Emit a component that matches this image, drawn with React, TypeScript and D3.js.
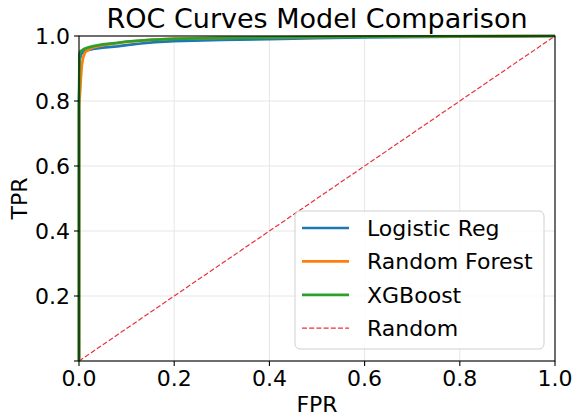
import React from "react";
import * as d3 from "d3";

const xTicks = [0, 0.2, 0.4, 0.6, 0.8, 1.0];
const yTicks = [0, 0.2, 0.4, 0.6, 0.8, 1.0];
const yTickLabels = ["", "0.2", "0.4", "0.6", "0.8", "1.0"];

const logisticFpr = [0, 0, 0.002, 0.005, 0.01, 0.02, 0.03, 0.05, 0.08, 0.1, 0.13, 0.16, 0.2, 0.3, 0.4, 0.5, 0.6, 0.8, 1.0];
const logisticTpr = [0, 0.8, 0.93, 0.945, 0.952, 0.957, 0.96, 0.964, 0.968, 0.972, 0.977, 0.981, 0.984, 0.988, 0.99, 0.993, 0.996, 0.998, 1.0];

const forestFpr = [0, 0, 0.002, 0.004, 0.006, 0.009, 0.013, 0.02, 0.03, 0.05, 0.08, 0.1, 0.15, 0.2, 0.3, 0.4, 0.6, 0.8, 1.0];
const forestTpr = [0, 0.78, 0.82, 0.87, 0.91, 0.935, 0.95, 0.958, 0.965, 0.972, 0.978, 0.982, 0.988, 0.992, 0.994, 0.996, 0.998, 0.999, 1.0];

const xgbFpr = [0, 0, 0.001, 0.003, 0.01, 0.02, 0.03, 0.05, 0.08, 0.1, 0.15, 0.2, 0.3, 0.5, 0.7, 1.0];
const xgbTpr = [0, 0.8, 0.945, 0.953, 0.96, 0.965, 0.969, 0.974, 0.979, 0.983, 0.988, 0.991, 0.994, 0.997, 0.999, 1.0];

const randomFpr = [0, 1];
const randomTpr = [0, 1];

const seriesNames = ["Logistic Reg", "Random Forest", "XGBoost", "Random"];
const seriesColors = ["#1f77b4", "#ff7f0e", "#2ca02c", "#e8323a"];

const W = 575;
const H = 416;
const L = 79, R = 555, T = 36, B = 361;
const FONT = "DejaVu Sans, sans-serif";

export default function App() {
  const x = d3.scaleLinear().domain([0, 1]).range([L, R]);
  const y = d3.scaleLinear().domain([0, 1]).range([B, T]);
  const line = d3
    .line<[number, number]>()
    .x((d) => x(d[0]))
    .y((d) => y(d[1]));
  const zip = (a: number[], b: number[]) => a.map((v, i) => [v, b[i]] as [number, number]);

  const curves = [
    zip(logisticFpr, logisticTpr),
    zip(forestFpr, forestTpr),
    zip(xgbFpr, xgbTpr),
  ];

  const legX = 295, legY = 211, legW = 249, legH = 138;
  const entryY = (i: number) => 228 + i * 33.4;

  return (
    <svg
      width={W}
      height={H}
      style={{ position: "absolute", left: 0, top: 0, background: "#fff" }}
      fontFamily={FONT}
    >
      <rect x={0} y={0} width={W} height={H} fill="#fff" />
      {xTicks.map((t) => (
        <line key={"gx" + t} x1={x(t)} x2={x(t)} y1={T} y2={B} stroke="#e6e6e6" strokeWidth={1} />
      ))}
      {yTicks.map((t) => (
        <line key={"gy" + t} x1={L} x2={R} y1={y(t)} y2={y(t)} stroke="#e6e6e6" strokeWidth={1} />
      ))}
      <path
        d={line(zip(randomFpr, randomTpr)) || ""}
        fill="none"
        stroke={seriesColors[3]}
        strokeWidth={1.2}
        strokeDasharray="5,2.2"
      />
      {curves.map((c, i) => (
        <path
          key={i}
          d={line(c) || ""}
          fill="none"
          stroke={seriesColors[i]}
          strokeWidth={2.7}
          strokeLinejoin="round"
        />
      ))}
      <rect x={L} y={T} width={R - L} height={B - T} fill="none" stroke="#000" strokeWidth={1.1} />
      {xTicks.map((t) => (
        <g key={"xt" + t}>
          <line x1={x(t)} x2={x(t)} y1={B} y2={B + 5} stroke="#000" strokeWidth={1.1} />
          <text x={x(t)} y={386} textAnchor="middle" fontSize={22} fill="#000">
            {t.toFixed(1)}
          </text>
        </g>
      ))}
      {yTicks.map((t, i) => (
        <g key={"yt" + t}>
          <line x1={L - 5} x2={L} y1={y(t)} y2={y(t)} stroke="#000" strokeWidth={1.1} />
          <text x={70} y={y(t)} dy="0.36em" textAnchor="end" fontSize={22} fill="#000">
            {yTickLabels[i]}
          </text>
        </g>
      ))}
      <text x={(L + R) / 2} y={412} textAnchor="middle" fontSize={22} fill="#000">
        FPR
      </text>
      <text
        transform={`translate(27, ${(T + B) / 2}) rotate(-90)`}
        textAnchor="middle"
        fontSize={22}
        fill="#000"
      >
        TPR
      </text>
      <text x={(L + R) / 2} y={28} textAnchor="middle" fontSize={27} fill="#000">
        ROC Curves Model Comparison
      </text>
      <rect
        x={legX}
        y={legY}
        width={legW}
        height={legH}
        rx={5}
        fill="#fff"
        fillOpacity={0.8}
        stroke="#d0d0d0"
        strokeWidth={1}
      />
      {seriesNames.map((n, i) => (
        <g key={n}>
          <line
            x1={302}
            x2={349}
            y1={entryY(i)}
            y2={entryY(i)}
            stroke={seriesColors[i]}
            strokeWidth={i === 3 ? 1.2 : 2.7}
            strokeDasharray={i === 3 ? "5,2.2" : undefined}
          />
          <text x={367} y={entryY(i)} dy="0.36em" fontSize={22} fill="#000">
            {n}
          </text>
        </g>
      ))}
    </svg>
  );
}
